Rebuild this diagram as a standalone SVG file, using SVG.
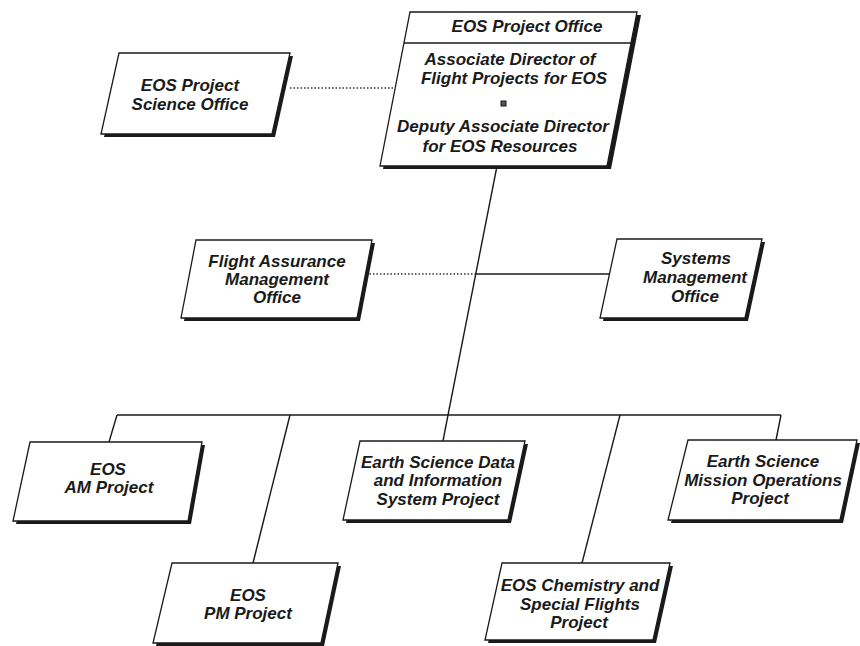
<svg xmlns="http://www.w3.org/2000/svg" width="860" height="646" viewBox="0 0 860 646">
<defs>
<style>
.shadow{fill:#1a1a1a;stroke:none}
.box{fill:#fff;stroke:#1a1a1a;stroke-width:1.3}
.t{font-family:"Liberation Sans",Arial,sans-serif;font-weight:bold;font-style:italic;font-size:17px;fill:#1a1a1a;text-anchor:middle}
.line{stroke:#1a1a1a;stroke-width:1.4;fill:none}
.dot{stroke:#333;stroke-width:1.3;stroke-dasharray:1.5 2;fill:none}
</style>
</defs>
<rect width="860" height="646" fill="#fff"/>
<g id="connectors">
<line class="dot" x1="290" y1="88" x2="394" y2="88"/>
<line class="dot" x1="366" y1="274" x2="476" y2="274"/>
<line class="line" x1="476" y1="274" x2="609" y2="274"/>
<line class="line" x1="497" y1="166" x2="448" y2="415"/>
<line class="line" x1="117" y1="415" x2="781" y2="415"/>
<line class="line" x1="117" y1="415" x2="109" y2="442"/>
<line class="line" x1="290" y1="415" x2="253" y2="563"/>
<line class="line" x1="448" y1="415" x2="443" y2="441"/>
<line class="line" x1="620" y1="415" x2="582" y2="563"/>
<line class="line" x1="781" y1="415" x2="776" y2="440"/>
</g>
<g id="eos-project-office">
<polygon class="shadow" points="413,15 641,15 611,169 383,169"/>
<polygon class="box" points="410,12 637,12 607,166 380,166"/>
<line class="line" x1="404" y1="43" x2="631" y2="43"/>
<text class="t" x="527" y="32">EOS Project Office</text>
<text class="t" x="510" y="65">Associate Director of</text>
<text class="t" x="514" y="84">Flight Projects for EOS</text>
<rect x="501" y="101" width="5" height="5" fill="#555" stroke="#1a1a1a" stroke-width="1"/>
<text class="t" x="503" y="132">Deputy Associate Director</text>
<text class="t" x="500" y="152">for EOS Resources</text>
</g>
<g id="science-office">
<polygon class="shadow" points="122,56 293,56 275,137 104,137"/>
<polygon class="box" points="119,53 290,53 272,134 101,134"/>
<text class="t" x="190" y="91">EOS Project</text>
<text class="t" x="190" y="110">Science Office</text>
</g>
<g id="flight-assurance">
<polygon class="shadow" points="199,243 375,243 360,321 184,321"/>
<polygon class="box" points="196,240 372,240 357,318 181,318"/>
<text class="t" x="277" y="267">Flight Assurance</text>
<text class="t" x="277" y="285">Management</text>
<text class="t" x="277" y="303">Office</text>
</g>
<g id="systems-management">
<polygon class="shadow" points="620,242 765,242 748,321 603,321"/>
<polygon class="box" points="617,239 762,239 745,318 600,318"/>
<text class="t" x="696" y="264">Systems</text>
<text class="t" x="695" y="283">Management</text>
<text class="t" x="695" y="302">Office</text>
</g>
<g id="eos-am">
<polygon class="shadow" points="33,445 205,445 191,524 16,524"/>
<polygon class="box" points="30,442 202,442 188,521 13,521"/>
<text class="t" x="108" y="475">EOS</text>
<text class="t" x="109" y="493">AM Project</text>
</g>
<g id="esdis">
<polygon class="shadow" points="363,444 528,444 511,523 346,523"/>
<polygon class="box" points="360,441 525,441 508,520 343,520"/>
<text class="t" x="438" y="468">Earth Science Data</text>
<text class="t" x="438" y="486">and Information</text>
<text class="t" x="438" y="505">System Project</text>
</g>
<g id="mission-operations">
<polygon class="shadow" points="691,443 860,443 843,523 671,523"/>
<polygon class="box" points="688,440 857,440 840,520 668,520"/>
<text class="t" x="763" y="467">Earth Science</text>
<text class="t" x="763" y="486">Mission Operations</text>
<text class="t" x="760" y="504">Project</text>
</g>
<g id="eos-pm">
<polygon class="shadow" points="175,566 341,566 324,646 156,646"/>
<polygon class="box" points="172,563 338,563 321,643 153,643"/>
<text class="t" x="248" y="601">EOS</text>
<text class="t" x="248" y="619">PM Project</text>
</g>
<g id="eos-chemistry">
<polygon class="shadow" points="505,566 673,566 656,643 488,643"/>
<polygon class="box" points="502,563 670,563 653,640 485,640"/>
<text class="t" x="580" y="591">EOS Chemistry and</text>
<text class="t" x="580" y="610">Special Flights</text>
<text class="t" x="579" y="628">Project</text>
</g>
</svg>
